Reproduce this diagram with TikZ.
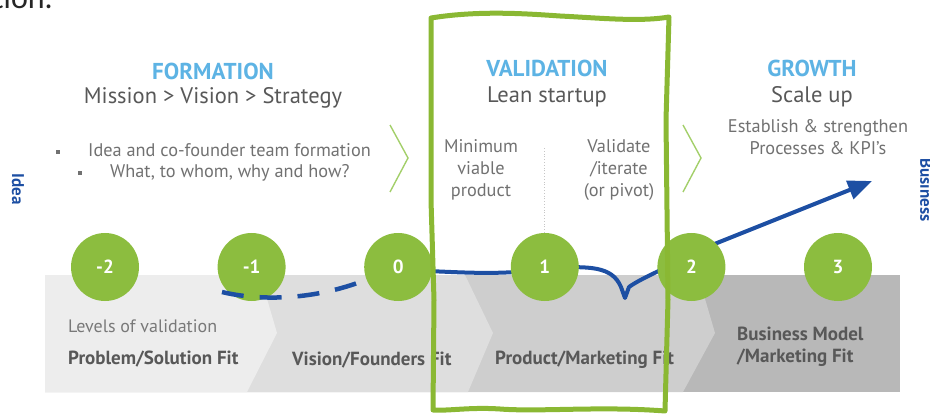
\documentclass[tikz,border=0pt]{standalone}
\usepackage{fontspec}
\setmainfont{PT Sans}
\newfontfamily\slidefont{Carlito}
\usetikzlibrary{positioning,calc,arrows.meta}

\definecolor{stagegreen}{HTML}{8CBD3F}
\definecolor{framegreen}{HTML}{8AB833}
\definecolor{chevgreen}{HTML}{A3CF6A}
\definecolor{headblue}{HTML}{5DB3E4}
\definecolor{trendblue}{HTML}{1D4FA3}
\definecolor{textgray}{HTML}{585858}
\definecolor{bandA}{HTML}{EDEDED}
\definecolor{bandB}{HTML}{DEDEDE}
\definecolor{bandC}{HTML}{CECECE}
\definecolor{bandD}{HTML}{B8B8B8}

\newcommand{\sqbullet}{\raisebox{2.5pt}{\rule{4pt}{4pt}}}

\tikzset{
  stagedot/.style={circle, fill=stagegreen, minimum size=68pt, inner sep=0pt,
    text=white, font=\bfseries\fontsize{19}{19}\selectfont},
  phasehead/.style={text=headblue, font=\bfseries\fontsize{23}{23}\selectfont},
  motto/.style={text=textgray, font=\fontsize{22.5}{22.5}\selectfont},
  remark/.style={text=textgray!85, align=center, font=\fontsize{18.3}{22}\selectfont},
  fitlabel/.style={text=textgray, anchor=west, inner sep=0pt, font=\bfseries\fontsize{19}{21.5}\selectfont},
  sidelabel/.style={text=trendblue, rotate=-90, inner sep=0pt, font=\bfseries\fontsize{17}{17}\selectfont},
  trend/.style={draw=trendblue, line width=4pt, line join=round, line cap=round},
  chevron/.style={draw=chevgreen, line width=1.4pt},
  frame/.style={draw=framegreen, line width=5pt, line join=round}
}

\begin{document}
\begin{tikzpicture}[x=1pt,y=-1pt]
\useasboundingbox (0,0) rectangle (930,417);

% end of the slide text above
\node[anchor=base east, inner sep=0pt, text=black!85, font=\slidefont\fontsize{32}{32}\selectfont] (slidetext) at (53,9) {ction.};

% grey band with chevrons
\fill[bandD] (45,275) rectangle (900,392);
\foreach \col/\tx/\mx/\bx in {bandC/698/715/683, bandB/465/493/468, bandA/260/277/247}
  \fill[\col] (45,275) -- (\tx,275) -- (\mx,333) -- (\bx,392) -- (45,392) -- cycle;

\node[text=textgray!80, anchor=west, inner sep=0pt, font=\fontsize{18}{18}\selectfont] (levels) at (68,326) {Levels of validation};
\node[fitlabel] (psfit) at (68,359) {Problem/Solution Fit};
\node[fitlabel] (vffit) at (292,360) {Vision/Founders Fit};
\node[fitlabel] (pmfit) at (495,360) {Product/Marketing Fit};
\node[fitlabel, align=left] (bmfit) at (737,347) {Business Model\\/Marketing Fit};

% phases
\node[phasehead] (formation) at (213,71) {FORMATION};
\node[motto] (mission) at (213,98) {Mission > Vision > Strategy};
\node[remark, anchor=west, inner sep=0pt] (task1) at (56,150) {\sqbullet\hspace{28pt}Idea and co-founder team formation};
\node[remark, anchor=west, inner sep=0pt] (task2) at (78,173) {\sqbullet\hspace{28pt}What, to whom, why and how?};

\node[phasehead] (validation) at (547,68) {VALIDATION};
\node[motto] (lean) at (547,97) {Lean startup};
\node[remark] (mvp) at (481,170) {Minimum\\viable\\product};
\node[remark] (iterate) at (619,170) {Validate\\/iterate\\(or pivot)};

\node[phasehead] (growth) at (812,68) {GROWTH};
\node[motto] (scale) at (812,97) {Scale up};
\node[remark] (kpi) at (818,137) {Establish \& strengthen\\Processes \& KPI’s};

\foreach \x in {390,683}
  \draw[chevron] (\x,125) -- ++(18,33) -- ++(-18,34);

\node[sidelabel] (idea) at (18,189) {Idea};
\node[sidelabel, anchor=south] (business) at (920,190) {Business};

% trend line
\coordinate (dashstart) at (222,292);
\coordinate (bizend) at (872,181);
\draw[trend] (397,270) .. controls (450,271) and (500,277) .. (547,268)
  .. controls (590,266) and (612,266) .. (621,287) -- (625,298) -- (629,287)
  .. controls (640,279) and (660,271) .. (676,262) -- (692,253);
\draw[trend, -{Triangle[length=24pt,width=19pt]}] (692,253) -- (bizend);

% levels
\foreach \lbl/\name [count=\i from 0] in {-2/mtwo,-1/mone,0/zero,1/one,2/two,3/three}
  \node[stagedot] (\name) at ({105+146.6*\i},267) {\lbl};

\draw[trend, line width=4.5pt, line cap=butt, dash pattern=on 22pt off 16pt]
  (dashstart) .. controls (255,300) and (310,302) .. (zero);
\draw[gray!45, dotted, line width=0.8pt] (one.north) -- ++(0,-85);

% hand drawn frame
\draw[frame] (431,18) .. controls (480,10) and (530,14) .. (560,16)
  .. controls (600,18) and (640,22) .. (669,17) -- (666,120) -- (668,300) -- (665,411)
  .. controls (600,406) and (540,412) .. (500,409) .. controls (470,407) and (450,411) .. (433,410)
  -- (434,300) -- (431,200) -- cycle;
\end{tikzpicture}
\end{document}
